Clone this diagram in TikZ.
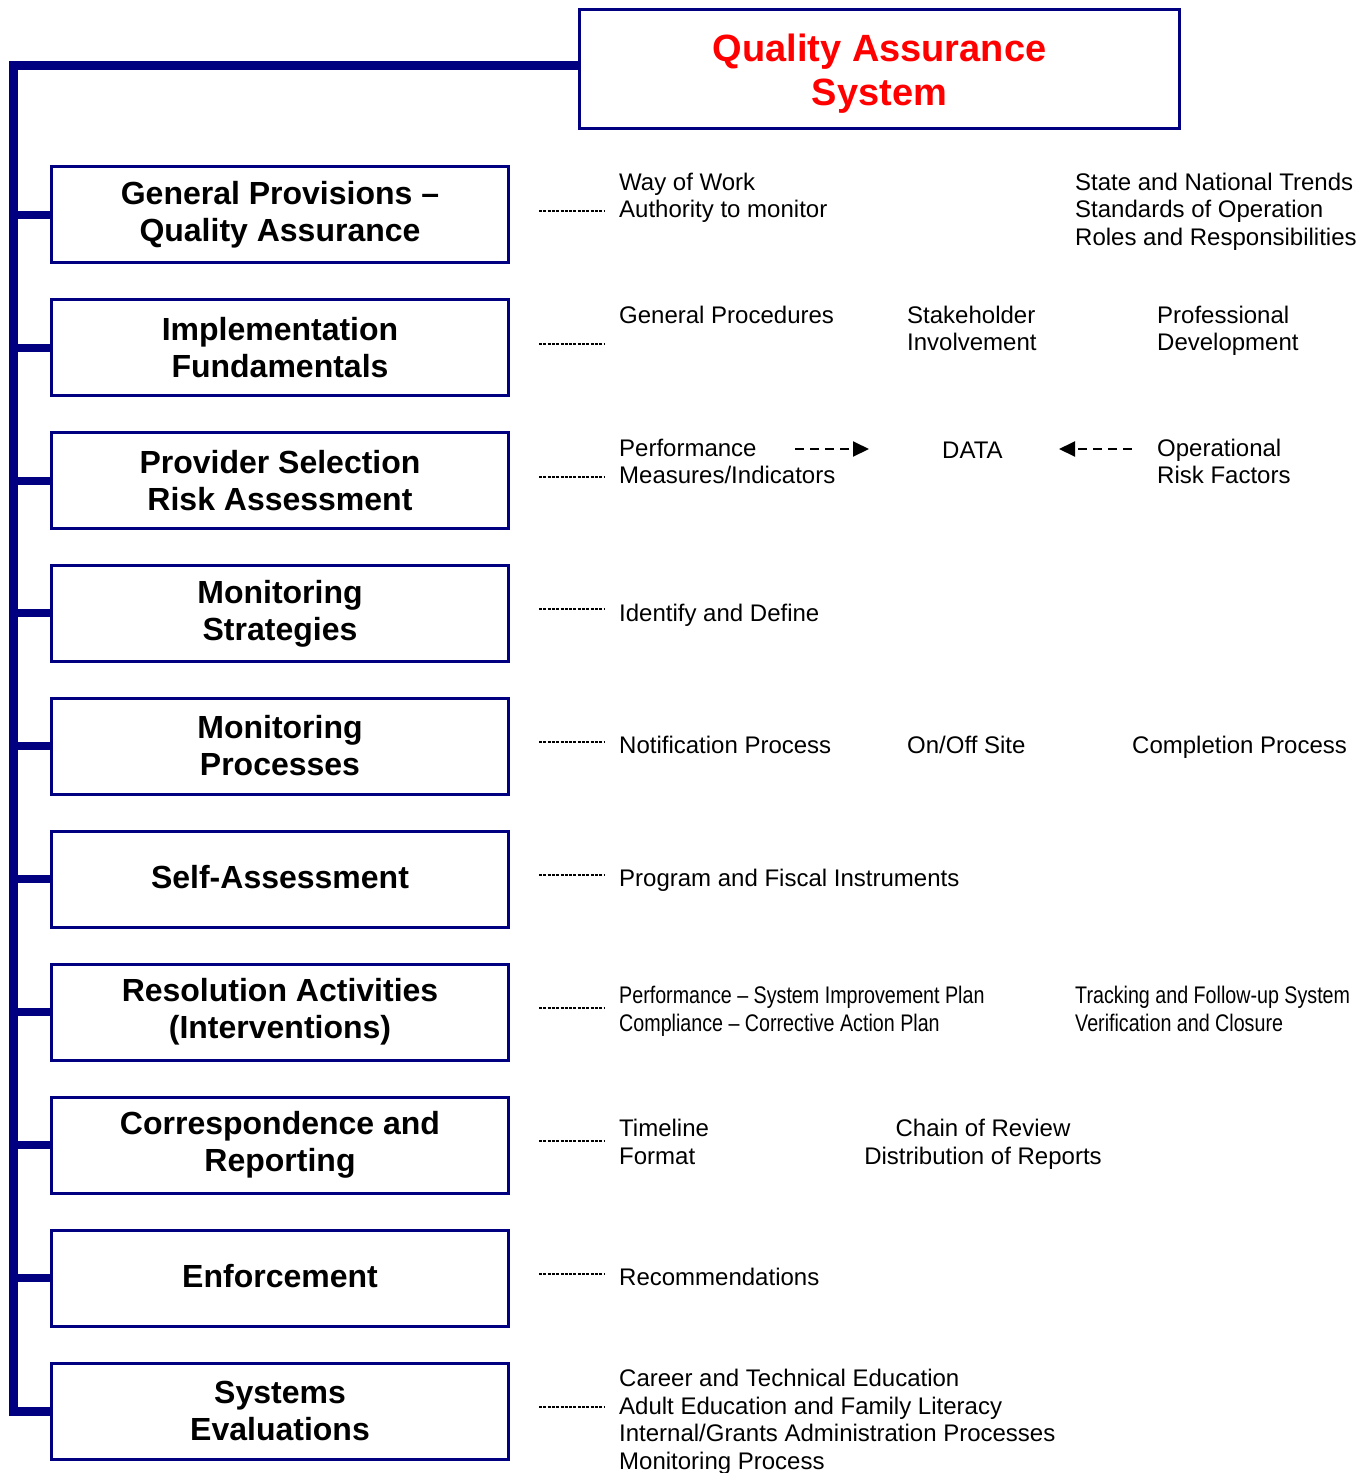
\documentclass[tikz,border=0pt]{standalone}
\usepackage{fontspec}
\setmainfont{Liberation Sans}
\newfontfamily\narrowfont[FakeStretch=0.82,Ligatures=TeX]{Liberation Sans}
\usetikzlibrary{arrows.meta}
\definecolor{qanavy}{HTML}{000080}
\definecolor{qared}{HTML}{FF0000}
\tikzset{
  catbox/.style={draw=qanavy, line width=3pt, minimum width=457pt, minimum height=96pt, inner sep=0pt, align=center, font=\fontsize{32}{37}\selectfont\bfseries},
  titlebox/.style={draw=qanavy, line width=3pt, minimum width=600pt, minimum height=119pt, inner sep=0pt, text=qared, font=\fontsize{38}{44}\selectfont\bfseries},
  dtext/.style={anchor=base west, inner sep=0pt, font=\fontsize{24}{27.6}\selectfont},
  ntext/.style={anchor=base west, inner sep=0pt, font=\fontsize{24}{27.6}\narrowfont},
  ctext/.style={anchor=base, inner sep=0pt, font=\fontsize{24}{27.6}\selectfont},
  spine/.style={draw=qanavy, line width=9pt, line join=miter},
  branch/.style={draw=qanavy, line width=8pt},
  dotline/.style={line width=2pt, dash pattern=on 3pt off 1.3pt},
  dasharrow/.style={line width=2pt, dash pattern=on 9pt off 6pt, -{Triangle[length=16pt,width=15pt]}}
}
\newcommand\dl[4]{\node[dtext] (#1) at (#2,#3) {#4};}
\newcommand\nl[4]{\node[ntext] (#1) at (#2,#3) {#4};}
\begin{document}
\begin{tikzpicture}[x=1pt,y=-1pt]
\useasboundingbox (0,0) rectangle (1369,1473);
% title
\node[titlebox] (qa) at (879.5,69) {\raisebox{-36pt}[0pt][0pt]{\begin{tabular}[b]{@{}c@{}}Quality Assurance\\System\end{tabular}}};
% category boxes
\node[catbox] (b1) at (280,214.5) {General Provisions –\\Quality Assurance};
\node[catbox] (b2) at (280,347.5) {Implementation\\Fundamentals};
\node[catbox] (b3) at (280,480.5) {Provider Selection\\Risk Assessment};
\node[catbox] (b4) at (280,613.3) {Monitoring\\Strategies};
\node[catbox] (b5) at (280,746.2) {\raisebox{2pt}{Monitoring}\\\raisebox{2pt}{Processes}};
\node[catbox] (b6) at (280,879.2) {\raisebox{4pt}{Self-Assessment}};
\node[catbox] (b7) at (280,1012.2) {Resolution Activities\\(Interventions)};
\node[catbox] (b8) at (280,1145.1) {Correspondence and\\Reporting};
\node[catbox] (b9) at (280,1278) {\raisebox{4pt}{Enforcement}};
\node[catbox] (b10) at (280,1411) {Systems\\Evaluations};
% spine
\coordinate (sp) at (13.5,65);
\draw[spine] ([yshift=4pt]qa.west) -- (sp) -- (sp |- b10.west) -- (b10.west);
\foreach \i in {1,...,9} { \draw[branch] (sp |- b\i.west) -- (b\i.west); }
% dotted leaders
\foreach \i in {1,...,10} {
  \coordinate (d\i a) at ([xshift=29pt,yshift=4pt]b\i.east);
  \coordinate (d\i b) at ([xshift=95pt,yshift=4pt]b\i.east);
  \draw[dotline] (d\i a) -- (d\i b);
}
% row 1
\dl{r1a}{619}{190}{Way of Work}
\dl{r1b}{619}{217}{Authority to monitor}
\dl{r1c}{1075}{190}{State and National Trends}
\dl{r1d}{1075}{217}{Standards of Operation}
\dl{r1e}{1075}{245}{Roles and Responsibilities}
% row 2
\dl{r2a}{619}{323}{General Procedures}
\dl{r2b}{907}{323}{Stakeholder}
\dl{r2c}{907}{350}{Involvement}
\dl{r2d}{1157}{323}{Professional}
\dl{r2e}{1157}{350}{Development}
% row 3
\dl{r3a}{619}{456}{Performance}
\dl{r3b}{619}{483}{Measures/Indicators}
\dl{r3c}{942}{458}{DATA}
\dl{r3d}{1157}{456}{Operational}
\dl{r3e}{1157}{483}{Risk Factors}
\coordinate (a1s) at (795,449);
\coordinate (a1e) at (869,449);
\coordinate (a2s) at (1132,449);
\coordinate (a2e) at (1059,449);
\draw[dasharrow] (a1s) -- (a1e);
\draw[dasharrow] (a2s) -- (a2e);
% row 4
\dl{r4a}{619}{621}{Identify and Define}
% row 5
\dl{r5a}{619}{753}{Notification Process}
\dl{r5b}{907}{753}{On/Off Site}
\dl{r5c}{1132}{753}{Completion Process}
% row 6
\dl{r6a}{619}{886}{Program and Fiscal Instruments}
% row 7
\nl{r7a}{619}{1003}{Performance – System Improvement Plan}
\nl{r7b}{619}{1031}{Compliance – Corrective Action Plan}
\nl{r7c}{1075}{1003}{Tracking and Follow-up System}
\nl{r7d}{1075}{1031}{Verification and Closure}
% row 8
\dl{r8a}{619}{1136}{Timeline}
\dl{r8b}{619}{1164}{Format}
\node[ctext] (r8c) at (983,1136) {Chain of Review};
\node[ctext] (r8d) at (983,1164) {Distribution of Reports};
% row 9
\dl{r9a}{619}{1285}{Recommendations}
% row 10
\dl{r10a}{619}{1386}{Career and Technical Education}
\dl{r10b}{619}{1414}{Adult Education and Family Literacy}
\dl{r10c}{619}{1441}{Internal/Grants Administration Processes}
\dl{r10d}{619}{1469}{Monitoring Process}
\end{tikzpicture}
\end{document}
